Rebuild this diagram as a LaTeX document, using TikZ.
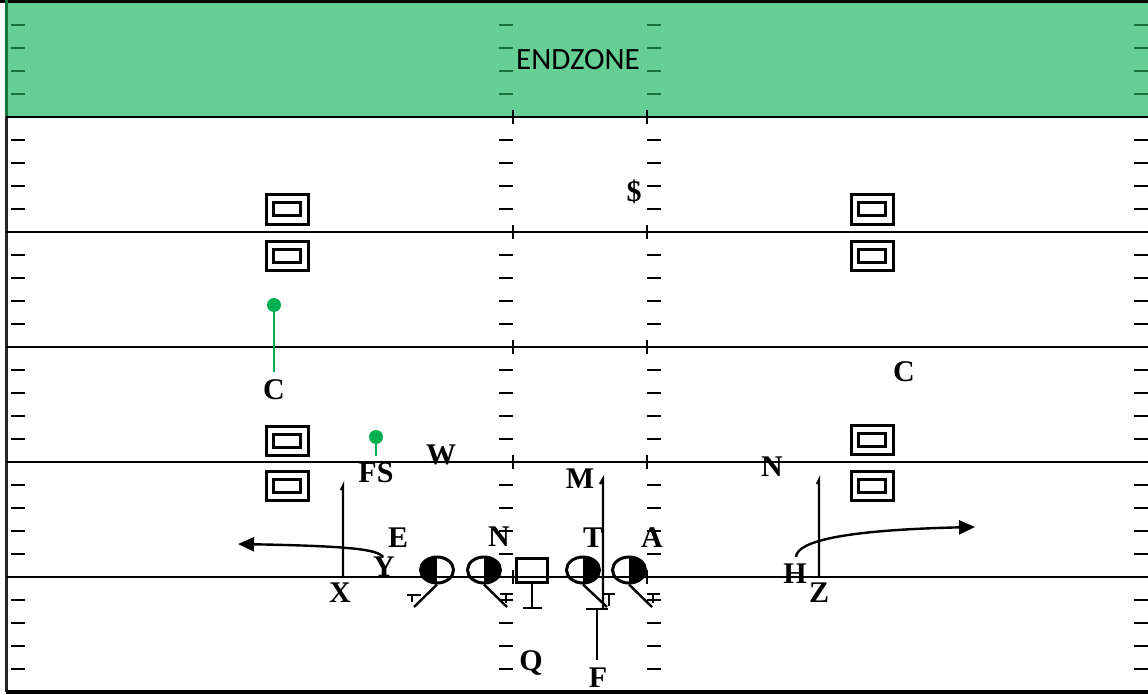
\documentclass[tikz,border=0pt]{standalone}
\usepackage{fontspec}
\setmainfont{Liberation Serif}
\newfontfamily\ezfont{Carlito}
\usetikzlibrary{arrows.meta,shapes.geometric}
\definecolor{ezgreen}{HTML}{66CF96}
\definecolor{hashgreen}{HTML}{17733A}
\definecolor{pingreen}{HTML}{00B050}
\tikzset{
  yardline/.style={line width=2.8pt,black},
  hashmark/.style={line width=2.8pt,black},
  ezhash/.style={line width=2.8pt,hashgreen},
  tick/.style={line width=2.4pt,black},
  lbl/.style={inner sep=0pt,font=\bfseries\fontsize{30}{30}\selectfont},
  route/.style={line width=2.4pt,black},
  pinline/.style={line width=2.6pt,pingreen},
  pindot/.style={circle,fill=pingreen,inner sep=0pt,minimum size=14pt},
  lineman/.style={ellipse,draw,line width=3pt,minimum width=33pt,minimum height=26pt,inner sep=0pt},
  lefthalf/.style={path picture={\fill[black] (path picture bounding box.south west) rectangle (path picture bounding box.north);}},
  righthalf/.style={path picture={\fill[black] (path picture bounding box.south) rectangle (path picture bounding box.north east);}},
  centerbox/.style={rectangle,draw,line width=3pt,minimum width=31pt,minimum height=24pt,inner sep=0pt},
  outerbox/.style={rectangle,draw,line width=3pt,minimum width=42pt,minimum height=29pt,inner sep=0pt},
  innerbox/.style={rectangle,draw,line width=3pt,minimum width=27pt,minimum height=13pt,inner sep=0pt},
  fieldarrow/.style={route,-{Triangle[length=16pt,width=14pt]}}
}
\begin{document}
\begin{tikzpicture}[x=1pt,y=-1pt]
\useasboundingbox (0,0) rectangle (1148,695);
\fill[white] (0,0) rectangle (1148,695);
% endzone
\fill[ezgreen] (6,2) rectangle (1148,117);
\node[inner sep=0pt,font=\ezfont\fontsize{31}{31}\selectfont] (ez) at (578,60) {ENDZONE};
% borders
\draw[line width=3.4pt,black] (0,1.7) -- (1148,1.7);
\draw[line width=3pt,hashgreen] (6,0) -- (6,117);
\draw[line width=3pt,black!85] (6,117) -- (6,692);
\draw[line width=3.4pt,black] (6,692) -- (1148,692);
% yard lines
\foreach \y in {117,232,347,462,577}{
  \draw[yardline] (6,\y) -- (1148,\y);
  \draw[tick] (513,\y-7) -- (513,\y+7);
  \draw[tick] (647,\y-7) -- (647,\y+7);
}
% hash marks
\foreach \j in {-4,...,24}{
  \pgfmathtruncatemacro{\m}{mod(\j+25,5)}
  \ifnum\m=0\relax\else
    \pgfmathsetmacro{\yy}{117+23*\j}
    \ifnum\j<0
      \foreach \xa in {11,499,647,1134}{\draw[ezhash] (\xa,\yy) -- (\xa+14,\yy);}
    \else
      \foreach \xa in {11,499,647,1134}{\draw[hashmark] (\xa,\yy) -- (\xa+14,\yy);}
    \fi
  \fi
}
% double boxes
\foreach \bx/\by [count=\k] in {287/209.5,287/255.5,287/440.5,287/485.5,872/209.5,872/255.5,872/440,872/486}{
  \node[outerbox] (ob\k) at (\bx,\by) {};
  \node[innerbox] (ib\k) at (\bx,\by) {};
}
% labels
\node[lbl] (dollar) at (634,192) {\$};
\node[lbl] (cL) at (274,390) {C};
\node[lbl] (cR) at (904,372) {C};
\node[lbl] (fs) at (376,473) {FS};
\node[lbl] (w) at (441,455) {W};
\node[lbl] (m) at (580,479) {M};
\node[lbl] (nR) at (772,467) {N};
\node[lbl] (e) at (398,538) {E};
\node[lbl] (nL) at (499,537) {N};
\node[lbl] (t) at (593,538) {T};
\node[lbl] (a) at (652,538) {A};
\node[lbl] (y) at (384,567) {Y};
\node[lbl] (x) at (340,593) {X};
\node[lbl] (h) at (795,574) {H};
\node[lbl] (z) at (819,593) {Z};
\node[lbl] (q) at (531,663) {Q};
\node[lbl] (f) at (598,678) {F};
% green pins
\node[pindot] (pinC) at (274,305) {};
\coordinate (pinCend) at (274,372);
\draw[pinline] (pinC.center) -- (pinCend);
\node[pindot] (pinFS) at (376,437) {};
\coordinate (pinFSend) at (376,456);
\draw[pinline] (pinFS.center) -- (pinFSend);
% line
\node[lineman,lefthalf] (o1) at (437,570) {};
\node[lineman,righthalf] (o2) at (484,570) {};
\node[centerbox] (ctr) at (532,570) {};
\node[lineman,righthalf] (o3) at (583,570) {};
\node[lineman,righthalf] (o4) at (629,570) {};
% blocks
\coordinate (b1) at (414,607);
\draw[route] (o1.south) -- (b1);
\draw[route] (407,595) -- (421,595) (412,595) -- (412,602);
\coordinate (b2) at (507,607);
\draw[route] (o2.south) -- (b2);
\draw[route] (500,594) -- (513,594) (506,594) -- (506,603);
\coordinate (b3) at (607,607);
\draw[route] (o3.south) -- (b3);
\draw[route] (602,594) -- (615,594) (609,594) -- (609,606);
\coordinate (b4) at (652,607);
\draw[route] (o4.south) -- (b4);
\draw[route] (647,594) -- (660,594) (653,594) -- (653,603);
% center block
\coordinate (cb) at (532,608);
\draw[route] (ctr.south) -- (cb);
\draw[route] (523,608) -- (542,608);
% M route
\coordinate (mstart) at (600,484);
\coordinate (mtop) at (603,479);
\coordinate (mend) at (603,608);
\draw[route] (mstart) -- (mtop) -- (mend);
% F
\coordinate (ftop) at (597,609);
\coordinate (fend) at (597,660);
\draw[route] (586,609) -- (608,609);
\draw[route] (ftop) -- (fend);
% X and Z stems
\coordinate (xtop) at (343,486);
\coordinate (xbot) at (343,577);
\draw[route] (341,490) -- (xtop) -- (xbot);
\coordinate (ztop) at (819,480);
\coordinate (zbot) at (819,577);
\draw[route] (817,484) -- (ztop) -- (zbot);
% Y and H routes
\coordinate (ystart) at (383,557);
\coordinate (yend) at (238,544);
\draw[fieldarrow] (ystart) .. controls (378,549) and (345,546) .. (yend);
\coordinate (hstart) at (796,557);
\coordinate (hend) at (975,527);
\draw[fieldarrow] (hstart) .. controls (797,541) and (845,530) .. (hend);
\end{tikzpicture}
\end{document}
